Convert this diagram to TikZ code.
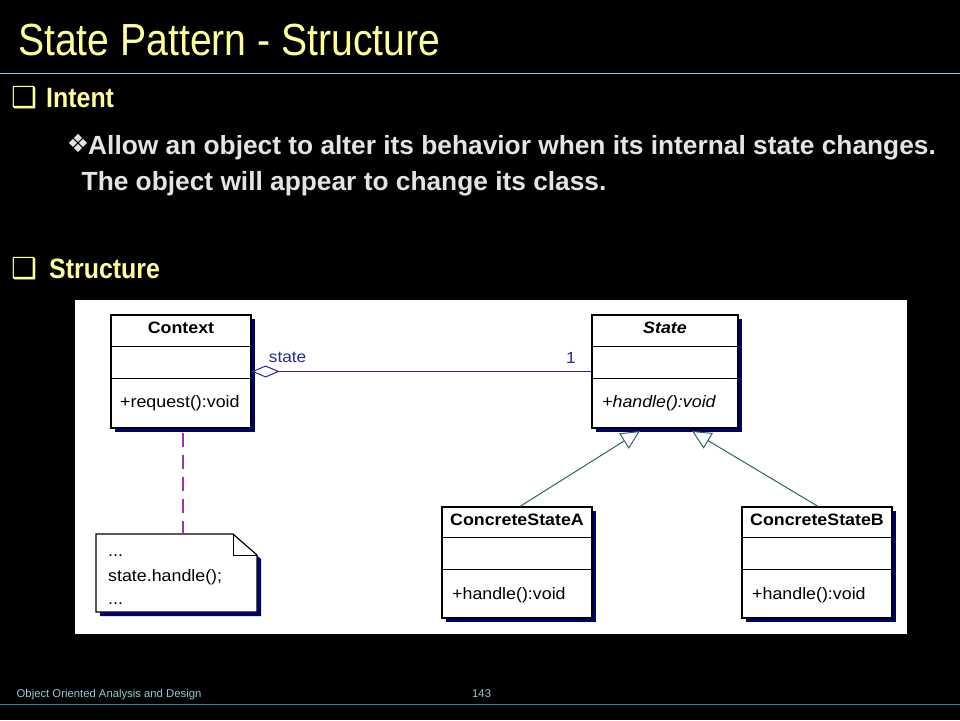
\documentclass[tikz,border=0pt]{standalone}
\usepackage{fontspec}
\setmainfont{Liberation Sans}
\newfontfamily\titlefont[FakeStretch=0.87]{Liberation Sans}
\newfontfamily\headfont[FakeStretch=0.89]{Liberation Sans}
\newfontfamily\umlfont[FakeStretch=1.08]{Liberation Sans}
\newfontfamily\symfont{DejaVu Sans}
\usetikzlibrary{arrows.meta,shadows}

\definecolor{slideyellow}{RGB}{255,255,153}
\definecolor{slidegray}{RGB}{228,228,228}
\definecolor{topline}{RGB}{150,200,230}
\definecolor{footline}{RGB}{40,140,150}
\definecolor{footgray}{RGB}{150,200,210}
\definecolor{umlshadow}{RGB}{0,0,110}
\definecolor{assocblue}{RGB}{40,40,160}
\definecolor{genteal}{RGB}{50,100,100}
\definecolor{notepurple}{RGB}{160,50,170}

\tikzstyle{slidetitle} = [anchor=base west, inner sep=0pt, text=slideyellow, font=\titlefont\fontsize{45}{54}\selectfont]
\tikzstyle{headline} = [anchor=base west, inner sep=0pt, text=slideyellow, font=\headfont\bfseries\fontsize{28}{34}\selectfont]
\tikzstyle{checkbox} = [inner sep=0pt, text=slideyellow, font=\symfont\fontsize{29}{34}\selectfont]
\tikzstyle{bullet} = [inner sep=0pt, text=slidegray, font=\symfont\fontsize{25}{28}\selectfont]
\tikzstyle{bodytext} = [anchor=base west, inner sep=0pt, text=slidegray, font=\bfseries\fontsize{26.3}{31}\selectfont]
\tikzstyle{foottext} = [anchor=base west, inner sep=0pt, text=footgray, font=\fontsize{11.3}{13}\selectfont]
\tikzstyle{rule} = [line width=1pt]
\tikzstyle{panel} = [fill=white, minimum width=832pt, minimum height=334pt, inner sep=0pt, outer sep=0pt]
\tikzstyle{umlclass} = [draw=black, fill=white, line width=1.2pt, inner sep=0pt,
  drop shadow={shadow xshift=4pt, shadow yshift=-4pt, opacity=1, fill=umlshadow}]
\tikzstyle{divider} = [line width=1pt]
\tikzstyle{clsname} = [anchor=base, inner sep=0pt, font=\umlfont\bfseries\fontsize{16.5}{18}\selectfont]
\tikzstyle{clsop} = [anchor=base west, inner sep=0pt, font=\umlfont\fontsize{16.5}{18}\selectfont]
\tikzstyle{assoc} = [draw=assocblue, line width=1pt, {Diamond[open, length=28pt, width=12pt]}-]
\tikzstyle{assoclabel} = [text=assocblue, inner sep=0pt, font=\umlfont\fontsize{16}{18}\selectfont]
\tikzstyle{inherit} = [draw=genteal, line width=1pt, -{Triangle[open, length=19pt, width=18pt, fill=white]}]
\tikzstyle{notelink} = [draw=notepurple, line width=1.8pt, dash pattern=on 14pt off 8pt]
\tikzstyle{notebox} = [minimum width=161pt, minimum height=78pt, inner sep=0pt, outer sep=0pt]
\tikzstyle{noteshape} = [draw=black, fill=white, line width=1.2pt, line join=miter,
  drop shadow={shadow xshift=4pt, shadow yshift=-4pt, opacity=1, fill=umlshadow}]

\begin{document}
\begin{tikzpicture}[x=1pt, y=-1pt]
  \fill[black] (0,0) rectangle (960,720);
  \useasboundingbox (0,0) rectangle (960,720);

  % slide header
  \node (title) at (18,55) [slidetitle] {State Pattern - Structure};
  \coordinate (topL) at (0,73);
  \coordinate (topR) at (960,73);
  \draw[rule, topline] (topL) -- (topR);

  % intent
  \node (box1) at (24,98) [checkbox] {❑};
  \node (intent) at (46,107) [headline] {Intent};
  \node (dia) at (78,143) [bullet] {❖};
  \node (line1) at (88,154) [bodytext] {Allow an object to alter its behavior when its internal state changes.};
  \node (line2) at (81.5,190) [bodytext] {The object will appear to change its class.};

  % structure
  \node (box2) at (24,268.5) [checkbox] {❑};
  \node (struct) at (49,278) [headline] {Structure};

  % class diagram
  \node (panel) at (491,467) [panel] {};

  \node (ctx) at (181,371.5) [umlclass, minimum width=140pt, minimum height=113pt] {};
  \node (st) at (665,371.5) [umlclass, minimum width=146pt, minimum height=113pt] {};
  \node (csa) at (517,562.5) [umlclass, minimum width=150pt, minimum height=111pt] {};
  \node (csb) at (817,562.5) [umlclass, minimum width=150pt, minimum height=111pt] {};

  \draw[divider] ([yshift=-32pt]ctx.north west) -- ([yshift=-32pt]ctx.north east);
  \draw[divider] ([yshift=-64pt]ctx.north west) -- ([yshift=-64pt]ctx.north east);
  \draw[divider] ([yshift=-32pt]st.north west) -- ([yshift=-32pt]st.north east);
  \draw[divider] ([yshift=-64pt]st.north west) -- ([yshift=-64pt]st.north east);
  \draw[divider] ([yshift=-31pt]csa.north west) -- ([yshift=-31pt]csa.north east);
  \draw[divider] ([yshift=-63pt]csa.north west) -- ([yshift=-63pt]csa.north east);
  \draw[divider] ([yshift=-31pt]csb.north west) -- ([yshift=-31pt]csb.north east);
  \draw[divider] ([yshift=-63pt]csb.north west) -- ([yshift=-63pt]csb.north east);

  \node (ctxName) at (181,333) [clsname] {Context};
  \node (ctxOp) at (120,407) [clsop] {+request():void};
  \node (stName) at (665,333) [clsname, font=\umlfont\bfseries\itshape\fontsize{16.5}{18}\selectfont] {State};
  \node (stOp) at (602,407) [clsop, font=\umlfont\itshape\fontsize{16.5}{18}\selectfont] {+handle():void};
  \node (csaName) at (517,525) [clsname] {ConcreteStateA};
  \node (csaOp) at (452,599) [clsop] {+handle():void};
  \node (csbName) at (817,525) [clsname] {ConcreteStateB};
  \node (csbOp) at (752,599) [clsop] {+handle():void};

  % association and generalizations
  \draw[assoc] (ctx.east) -- node [assoclabel, pos=0.106, above=8pt] {state}
    node [assoclabel, pos=0.94, above=8pt] {1} (st.west);
  \coordinate (genA) at (640,431);
  \coordinate (genB) at (692,431);
  \draw[inherit] ([xshift=3pt]csa.north) -- (genA);
  \draw[inherit] ([xshift=1pt]csb.north) -- (genB);

  % note
  \node (note) at (176.5,573) [notebox] {};
  \draw[noteshape] (note.north west) -- ([xshift=-24pt]note.north east)
    -- ([yshift=-21pt]note.north east) -- (note.south east) -- (note.south west) -- cycle;
  \draw[line width=1pt] ([xshift=-24pt]note.north east) |- ([yshift=-21pt]note.north east);
  \node (noteA) at (108,556.5) [clsop] {...};
  \node (noteB) at (108,581.5) [clsop] {state.handle();};
  \node (noteC) at (108,604) [clsop] {...};
  \draw[notelink] ([yshift=-4pt, xshift=2pt]ctx.south) -- (note.north -| 183,0);

  % footer
  \node (foot) at (16.5,697) [foottext] {Object Oriented Analysis and Design};
  \node (page) at (472,697) [foottext] {143};
  \coordinate (footL) at (0,704.5);
  \coordinate (footR) at (960,704.5);
  \draw[rule, footline] (footL) -- (footR);
\end{tikzpicture}
\end{document}
